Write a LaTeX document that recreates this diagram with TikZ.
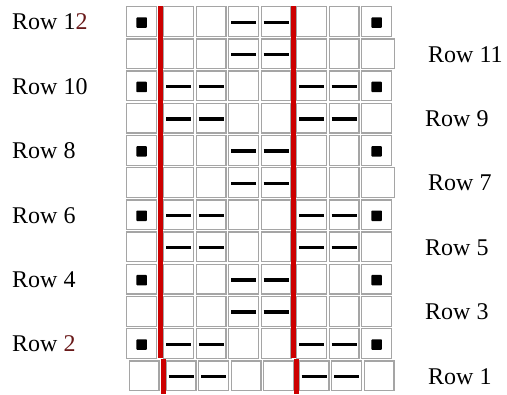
\documentclass[tikz,border=0pt]{standalone}
\usepackage{fontspec}
\setmainfont{Liberation Serif}
\usetikzlibrary{positioning}

\definecolor{gridgray}{RGB}{165,165,165}
\definecolor{barred}{RGB}{204,0,0}
\definecolor{numred}{RGB}{105,25,25}

\begin{document}
\begin{tikzpicture}[x=1bp,y=-1bp,
  cell/.style={draw=gridgray,fill=white,line width=1.3bp},
  knot/.style={fill=black,rounded corners=0.8bp},
  dashmark/.style={black,line width=3.4bp},
  bar/.style={draw=barred,line width=5bp},
  lb/.style={font=\fontsize{24bp}{27bp}\selectfont,inner sep=0pt,anchor=west}]
\useasboundingbox[fill=white] (0,0) rectangle (507,394);
% grid of stitches, row 12 at the top
\foreach \r in {1,...,12} {
  \pgfmathsetmacro\yt{6+(12-\r)*32.2}
  \pgfmathsetmacro\dx{\r==1 ? 2.5 : 0}
  \pgfmathtruncatemacro\g{mod(ceil(\r/2),2)}
  \foreach \cx [count=\c] in {126,163,195.5,228,260.5,296,328.5,361} {
    \pgfmathsetmacro\w{(\c==8 && (\r==11 || \r==7)) ? 32.6 : 29.7}
    \draw[cell] (\cx+\dx+0.65,\yt+0.65) rectangle ++(\w,29.7);
  }
  % purl dots on even rows
  \pgfmathtruncatemacro\ev{mod(\r,2)}
  \ifnum\ev=0
    \fill[knot] (136.4,\yt+11.3) rectangle ++(10.5,10.5);
    \fill[knot] (371.4,\yt+11.3) rectangle ++(10.5,10.5);
  \fi
  % dashes
  \ifnum\g=0
    \foreach \cx in {228,260.5}
      \draw[dashmark] (\cx+\dx+3,\yt+16.3) -- ++(25,0);
  \else
    \foreach \cx in {163,195.5,296,328.5}
      \draw[dashmark] (\cx+\dx+3,\yt+16.3) -- ++(25,0);
  \fi
}
% cable edges
\draw[bar] (160,6) -- (160,358.4);
\draw[bar] (293,6) -- (293,358.4);
\draw[bar] (163,359.2) -- (163,394);
\draw[bar] (296.5,359.2) -- (296.5,394);
% row labels
\node[lb] (row12) at (12,22) {Row 1\textcolor{numred}{2}};
\node[lb] (row10) at (12,86.4) {Row 10};
\node[lb] (row8) at (12,150.8) {Row 8};
\node[lb] (row6) at (12,215.2) {Row 6};
\node[lb] (row4) at (12,279.6) {Row 4};
\node[lb] (row2) at (12,344) {Row \textcolor{numred}{2}};
\node[lb] (row11) at (428,54.2) {Row 11};
\node[lb] (row9) at (425,118.6) {Row 9};
\node[lb] (row7) at (428,183) {Row 7};
\node[lb] (row5) at (425,247.4) {Row 5};
\node[lb] (row3) at (425,311.8) {Row 3};
\node[lb] (row1) at (428,376.2) {Row 1};
\end{tikzpicture}
\end{document}
